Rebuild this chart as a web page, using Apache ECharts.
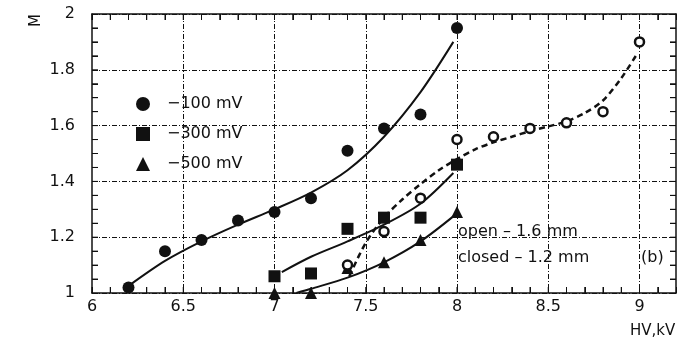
<!DOCTYPE html>
<html>
<head>
<meta charset="utf-8">
<script src="https://cdn.jsdelivr.net/npm/echarts@6/dist/echarts.min.js"></script>
<style>html,body{margin:0;padding:0;background:#fff}#c{width:681px;height:342px}</style>
</head>
<body>
<div id="c"></div>
<script>
// measured points
var hv100 = [6.2, 6.4, 6.6, 6.8, 7.0, 7.2, 7.4, 7.6, 7.8, 8.0];
var m100  = [1.02, 1.15, 1.19, 1.26, 1.29, 1.34, 1.51, 1.59, 1.64, 1.95];
var hv300 = [7.0, 7.2, 7.4, 7.6, 7.8, 8.0];
var m300  = [1.06, 1.07, 1.23, 1.27, 1.27, 1.46];
var hv500 = [7.0, 7.2, 7.4, 7.6, 7.8, 8.0];
var m500  = [1.00, 1.00, 1.09, 1.11, 1.19, 1.29];
var hvOpen = [7.4, 7.6, 7.8, 8.0, 8.2, 8.4, 8.6, 8.8, 9.0];
var mOpen  = [1.10, 1.22, 1.34, 1.55, 1.56, 1.59, 1.61, 1.65, 1.90];
// fitted curves
var fit100x = [6.21, 6.4, 6.6, 6.8, 7.0, 7.2, 7.4, 7.6, 7.8, 7.98];
var fit100y = [1.03, 1.115, 1.185, 1.245, 1.30, 1.36, 1.44, 1.56, 1.72, 1.90];
var fit300x = [7.04, 7.2, 7.4, 7.6, 7.8, 7.98];
var fit300y = [1.075, 1.13, 1.185, 1.245, 1.32, 1.43];
var fit500x = [7.12, 7.2, 7.4, 7.6, 7.8, 7.99];
var fit500y = [1.0, 1.015, 1.055, 1.11, 1.185, 1.28];
var fitOpenx = [7.41, 7.5, 7.6, 7.7, 7.8, 7.9, 8.0, 8.1, 8.2, 8.3, 8.4, 8.5, 8.6, 8.7, 8.8, 8.9, 8.98];
var fitOpeny = [1.06, 1.18, 1.27, 1.335, 1.39, 1.44, 1.48, 1.515, 1.54, 1.56, 1.58, 1.597, 1.615, 1.645, 1.69, 1.77, 1.85];
// tick positions of the frame
var xTickVals = [6.0, 6.1, 6.2, 6.3, 6.4, 6.5, 6.6, 6.7, 6.8, 6.9, 7.0, 7.1, 7.2, 7.3, 7.4, 7.5, 7.6, 7.7, 7.8, 7.9,
                 8.0, 8.1, 8.2, 8.3, 8.4, 8.5, 8.6, 8.7, 8.8, 8.9, 9.0, 9.1];
var yTickVals = [1.05, 1.1, 1.15, 1.2, 1.25, 1.3, 1.35, 1.4, 1.45, 1.5, 1.55, 1.6, 1.65, 1.7, 1.75, 1.8, 1.85, 1.9, 1.95];
var legendNames = ['\u2212100 mV', '\u2212300 mV', '\u2212500 mV'];
var noteLines = ['open \u2013 1.6 mm', 'closed \u2013 1.2 mm'];
var panelTag = '(b)';
var xTitle = 'HV,kV';
var yTitle = 'M';

function zip(a, b) { return a.map(function (v, i) { return [v, b[i]]; }); }

var FONT = 'DejaVu Sans';
var ink = '#111';
var TICK = 6;
var chart = echarts.init(document.getElementById('c'), null, {renderer: 'canvas'});
function ticks() { return {show: true, inside: true, length: TICK, lineStyle: {color: ink, width: 1}}; }
function minor() { return {show: true, splitNumber: 4, length: TICK, lineStyle: {color: ink, width: 1}}; }
function dashLine() { return {color: ink, width: 1, type: [5, 2, 1, 2]}; }

// frame ticks drawn through the cartesian scales (bottom+top for x, left+right for y)
function xTickItem(params, api) {
  var v = api.value(0);
  var b = api.coord([v, 1]);
  var t = api.coord([v, 2]);
  var st = {stroke: ink, lineWidth: 1};
  return {type: 'group', children: [
    {type: 'line', shape: {x1: b[0], y1: b[1], x2: b[0], y2: b[1] - TICK}, style: st},
    {type: 'line', shape: {x1: t[0], y1: t[1], x2: t[0], y2: t[1] + TICK}, style: st}
  ]};
}
function yTickItem(params, api) {
  var v = api.value(1);
  var l = api.coord([6, v]);
  var r = api.coord([9.2, v]);
  var st = {stroke: ink, lineWidth: 1};
  return {type: 'group', children: [
    {type: 'line', shape: {x1: l[0], y1: l[1], x2: l[0] + TICK, y2: l[1]}, style: st},
    {type: 'line', shape: {x1: r[0], y1: r[1], x2: r[0] - TICK, y2: r[1]}, style: st}
  ]};
}

chart.setOption({
  animation: false,
  backgroundColor: '#fff',
  grid: {left: 92, right: 5, top: 14, bottom: 49},
  legend: {
    data: legendNames, orient: 'vertical', left: 131, top: 91,
    itemWidth: 14, itemHeight: 14, itemGap: 14,
    textStyle: {fontFamily: FONT, fontSize: 16, color: ink, padding: [0, 0, 0, 12]}
  },
  xAxis: [
    {type: 'value', min: 6, max: 9.2, interval: 0.1, position: 'bottom',
     axisLine: {show: true, onZero: false, lineStyle: {color: ink, width: 1.5}},
     axisTick: ticks(), splitLine: {show: false},
     axisLabel: {margin: 6, fontFamily: FONT, fontSize: 16, color: ink,
       formatter: function (v) { var r = Math.round(v * 2); return Math.abs(v * 2 - r) < 1e-6 && v < 9.15 ? String(Math.round(v * 10) / 10) : ''; }}},
    {type: 'value', min: 6, max: 9.2, interval: 0.1, position: 'top',
     axisLine: {show: true, onZero: false, lineStyle: {color: ink, width: 1.5}},
     axisTick: ticks(), splitLine: {show: false}, axisLabel: {show: false}},
    {type: 'value', min: 6, max: 9.2, interval: 0.5, position: 'bottom',
     axisLine: {show: false}, axisTick: {show: false}, axisLabel: {show: false},
     splitLine: {show: true, showMinLine: false, showMaxLine: false, lineStyle: dashLine()}}
  ],
  yAxis: [
    {type: 'value', min: 1, max: 2, interval: 0.2, position: 'left',
     axisLine: {show: true, onZero: false, lineStyle: {color: ink, width: 1.5}},
     axisTick: ticks(), minorTick: minor(),
     splitLine: {show: true, lineStyle: dashLine()},
     axisLabel: {margin: 17, fontFamily: FONT, fontSize: 16, color: ink,
       formatter: function (v) { return String(Math.round(v * 10) / 10); }}},
    {type: 'value', min: 1, max: 2, interval: 0.2, position: 'right',
     axisLine: {show: true, onZero: false, lineStyle: {color: ink, width: 1.5}},
     axisTick: ticks(), minorTick: minor(),
     splitLine: {show: false}, axisLabel: {show: false}}
  ],
  graphic: [
    {type: 'text', left: 29, top: 14, rotation: Math.PI / 2, originX: 0, originY: 0,
     style: {text: yTitle, font: '15px "' + FONT + '"', fill: ink}},
    {type: 'text', left: 630, top: 324, style: {text: xTitle, font: '15px "' + FONT + '"', fill: ink}},
    {type: 'text', left: 458, top: 224, style: {text: noteLines[0], font: '16px "' + FONT + '"', fill: ink}},
    {type: 'text', left: 458, top: 250, style: {text: noteLines[1], font: '16px "' + FONT + '"', fill: ink}},
    {type: 'text', left: 641, top: 250, style: {text: panelTag, font: '16px "' + FONT + '"', fill: ink}}
  ],
  series: [
    {type: 'custom', coordinateSystem: 'cartesian2d', silent: true, z: 10, clip: false,
     data: xTickVals.map(function (v) { return [v, 1]; }), renderItem: xTickItem},
    {type: 'custom', coordinateSystem: 'cartesian2d', silent: true, z: 10, clip: false,
     data: yTickVals.map(function (v) { return [6, v]; }), renderItem: yTickItem},
    {type: 'line', data: zip(fit100x, fit100y), smooth: 0.3, symbol: 'none', silent: true,
     lineStyle: {color: ink, width: 2}, z: 2},
    {type: 'line', data: zip(fit300x, fit300y), smooth: 0.3, symbol: 'none', silent: true,
     lineStyle: {color: ink, width: 2}, z: 2},
    {type: 'line', data: zip(fit500x, fit500y), smooth: 0.3, symbol: 'none', silent: true,
     lineStyle: {color: ink, width: 2}, z: 2},
    {type: 'line', data: zip(fitOpenx, fitOpeny), smooth: 0.3, symbol: 'none', silent: true,
     lineStyle: {color: ink, width: 2.5, type: [6, 4]}, z: 2},
    {name: legendNames[0], type: 'scatter', data: zip(hv100, m100), symbol: 'circle', symbolSize: 12,
     itemStyle: {color: ink, opacity: 1}, z: 3},
    {name: legendNames[1], type: 'scatter', data: zip(hv300, m300), symbol: 'rect', symbolSize: 12,
     itemStyle: {color: ink, opacity: 1}, z: 3},
    {name: legendNames[2], type: 'scatter', data: zip(hv500, m500), symbol: 'triangle', symbolSize: 12,
     itemStyle: {color: ink, opacity: 1}, z: 3},
    {type: 'scatter', data: zip(hvOpen, mOpen), symbol: 'circle', symbolSize: 9,
     itemStyle: {color: '#fff', borderColor: ink, borderWidth: 2.5, opacity: 1}, z: 4}
  ]
});
</script>
</body>
</html>
